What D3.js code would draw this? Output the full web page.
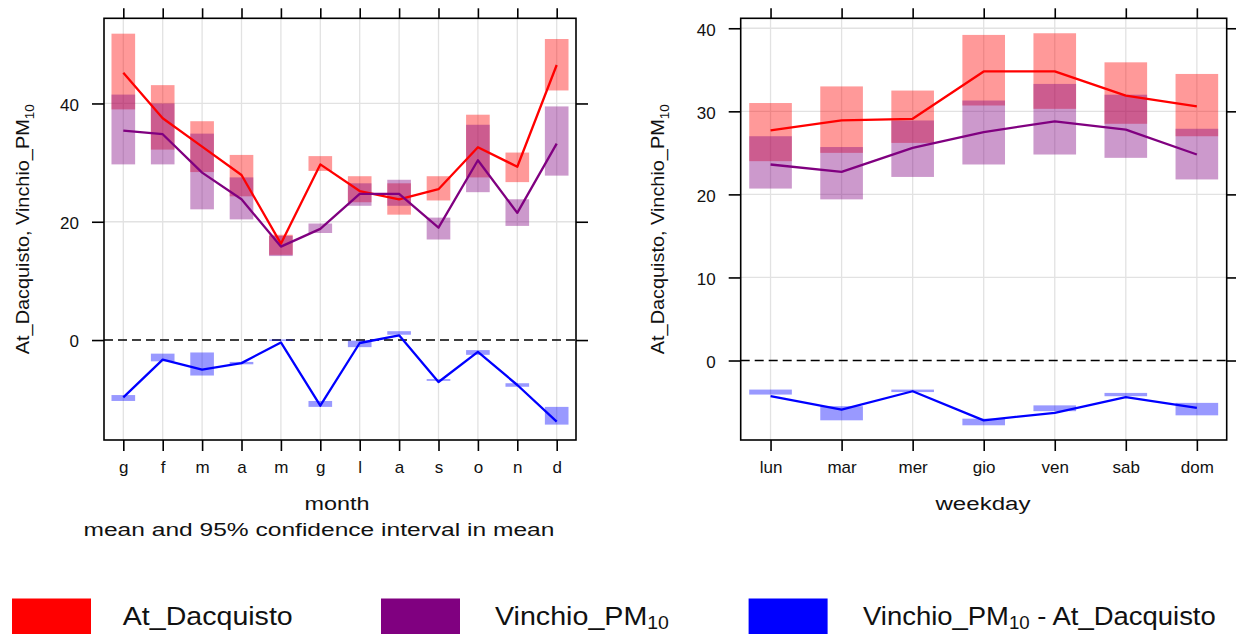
<!DOCTYPE html>
<html lang="en">
<head>
<meta charset="UTF-8">
<title>Time variation</title>
<script src="https://d3js.org/d3.v7.min.js"></script>
<style>
  body { margin: 0; background: #fff; }
  svg { display: block; font-family: "Liberation Sans", Arial, sans-serif; }
  .grid line { stroke: #e2e2e2; stroke-width: 1.3; }
  .frame { fill: none; stroke: #000; stroke-width: 1.6; }
  .axis path { display: none; }
  .axis line { stroke: #000; stroke-width: 1.6; }
  .axis text { font-size: 17px; fill: #111; font-family: "Liberation Sans", Arial, sans-serif; }
</style>
</head>
<body>
<div id="chart"></div>
<script>
// month panel
const months = ["g", "f", "m", "a", "m", "g", "l", "a", "s", "o", "n", "d"];
const atMonthMean  = [45.2, 37.5, 32.7, 27.9, 16.3, 29.7, 25.2, 23.8, 25.5, 32.6, 29.3, 46.5];
const atMonthLow   = [39.0, 32.2, 28.4, 24.3, 14.4, 28.6, 23.3, 21.2, 23.6, 27.5, 26.7, 42.2];
const atMonthHigh  = [51.8, 43.1, 37.0, 31.3, 17.8, 31.1, 27.7, 26.5, 27.7, 38.1, 31.7, 50.9];
const viMonthMean  = [35.4, 34.8, 28.3, 23.8, 15.8, 18.8, 24.7, 24.7, 19.0, 30.4, 21.5, 33.2];
const viMonthLow   = [29.7, 29.7, 22.1, 20.4, 14.2, 18.1, 22.7, 22.7, 17.0, 25.0, 19.3, 27.8];
const viMonthHigh  = [41.5, 40.0, 34.9, 27.5, 17.6, 19.7, 26.5, 27.1, 20.7, 36.4, 23.8, 39.5];
const diffMonthMean = [-9.7, -3.3, -5.0, -3.9, -0.4, -11.1, -0.5, 0.8, -7.1, -2.0, -7.6, -13.8];
const diffMonthLow  = [-10.3, -3.6, -6.0, -4.1, -0.15, -11.3, -1.2, 0.9, -6.9, -2.5, -7.9, -14.3];
const diffMonthHigh = [-9.3, -2.3, -2.1, -3.7, 0.1, -10.3, -0.1, 1.5, -6.6, -1.7, -7.3, -11.3];
const monthTicks = [0, 20, 40];

// weekday panel
const weekdays = ["lun", "mar", "mer", "gio", "ven", "sab", "dom"];
const atWeekMean  = [27.7, 28.9, 29.1, 34.8, 34.8, 31.9, 30.6];
const atWeekLow   = [24.0, 25.0, 26.2, 30.7, 30.3, 28.5, 27.0];
const atWeekHigh  = [31.0, 33.0, 32.5, 39.2, 39.4, 35.9, 34.5];
const viWeekMean  = [23.6, 22.7, 25.6, 27.5, 28.8, 27.8, 24.8];
const viWeekLow   = [20.7, 19.4, 22.1, 23.6, 24.8, 24.4, 21.8];
const viWeekHigh  = [27.0, 25.7, 28.9, 31.3, 33.3, 32.0, 27.9];
const diffWeekMean = [-4.3, -5.9, -3.7, -7.2, -6.3, -4.4, -5.7];
const diffWeekLow  = [-4.1, -7.2, -3.8, -7.8, -6.1, -4.3, -6.6];
const diffWeekHigh = [-3.5, -5.5, -3.5, -7.0, -5.4, -3.9, -5.1];
const weekTicks = [0, 10, 20, 30, 40];

const colors = { at: "#ff0000", vi: "#800080", diff: "#0000ff" };

const svg = d3.select("#chart").append("svg")
    .attr("width", 1236)
    .attr("height", 634);

// text with optional subscript parts, stretched to a given width
function addLabel(parent, parts, size, width, place, subDrop = 0.3) {
    const t = parent.append("text").attr("font-size", size).attr("fill", "#111");
    let down = false;
    parts.forEach(p => {
        const s = t.append("tspan").text(p.t);
        if (p.sub) {
            s.attr("font-size", size * 0.68).attr("dy", size * subDrop);
            down = true;
        } else if (down) {
            s.attr("dy", -size * subDrop);
            down = false;
        }
    });
    const k = width / t.node().getComputedTextLength();
    t.attr("transform", `${place} scale(${k},1)`);
    return t;
}

const ylabParts = [{ t: "At_Dacquisto, Vinchio_PM" }, { t: "10", sub: true }];

function drawPanel(cfg) {
    const n = cfg.labels.length;
    const idx = d3.range(1, n + 1);
    const x = d3.scaleLinear().domain([1 - cfg.pad, n + cfg.pad]).range([cfg.left, cfg.right]);
    const y = d3.scaleLinear().domain(cfg.yDomain).range([cfg.bottom, cfg.top]);
    const bw = (x(2) - x(1)) * 0.6;
    const g = svg.append("g");

    const grid = g.append("g").attr("class", "grid");
    grid.selectAll(".gx").data(idx).join("line")
        .attr("x1", d => x(d)).attr("x2", d => x(d))
        .attr("y1", cfg.top).attr("y2", cfg.bottom);
    grid.selectAll(".gy").data(cfg.yTicks.filter(v => v !== 0)).join("line")
        .attr("x1", cfg.left).attr("x2", cfg.right)
        .attr("y1", d => y(d)).attr("y2", d => y(d));

    g.append("line")
        .attr("x1", cfg.left).attr("x2", cfg.right)
        .attr("y1", y(0)).attr("y2", y(0))
        .attr("stroke", "#000").attr("stroke-width", 1.4)
        .attr("stroke-dasharray", "9,5");

    cfg.series.forEach(s => {
        g.append("g").selectAll("rect")
            .data(idx.map(i => ({ i, lo: s.low[i - 1], hi: s.high[i - 1] })))
            .join("rect")
            .attr("x", d => x(d.i) - bw / 2)
            .attr("width", bw)
            .attr("y", d => y(Math.max(d.lo, d.hi)))
            .attr("height", d => Math.abs(y(d.lo) - y(d.hi)))
            .attr("fill", s.color)
            .attr("fill-opacity", 0.4);
    });

    const line = d3.line().x((d, i) => x(i + 1)).y(d => y(d));
    cfg.series.forEach(s => {
        g.append("path").datum(s.mean)
            .attr("d", line)
            .attr("fill", "none")
            .attr("stroke", s.color)
            .attr("stroke-width", 2.3)
            .attr("stroke-linejoin", "round");
    });

    g.append("rect").attr("class", "frame")
        .attr("x", cfg.left).attr("y", cfg.top)
        .attr("width", cfg.right - cfg.left).attr("height", cfg.bottom - cfg.top);

    g.append("g").attr("class", "axis")
        .attr("transform", `translate(0,${cfg.bottom})`)
        .call(d3.axisBottom(x).tickValues(idx).tickFormat(i => cfg.labels[i - 1])
            .tickSize(11).tickPadding(10));
    g.append("g").attr("class", "axis")
        .attr("transform", `translate(0,${cfg.top})`)
        .call(d3.axisTop(x).tickValues(idx).tickFormat("").tickSize(10));
    g.append("g").attr("class", "axis")
        .attr("transform", `translate(${cfg.left},0)`)
        .call(d3.axisLeft(y).tickValues(cfg.yTicks).tickFormat(d3.format("d"))
            .tickSize(12).tickPadding(13))
        .selectAll("text").attr("dy", "0.4em");
    g.append("g").attr("class", "axis")
        .attr("transform", `translate(${cfg.right},0)`)
        .call(d3.axisRight(y).tickValues(cfg.yTicks).tickFormat("").tickSize(12));

    const cy = (cfg.top + cfg.bottom) / 2;
    addLabel(g, ylabParts, 18, 250, `translate(${cfg.ylabX},${cy + 125}) rotate(-90)`);
    addLabel(g, [{ t: cfg.title }], 19, cfg.titleWidth,
        `translate(${cfg.titleX - cfg.titleWidth / 2},510)`);
}

drawPanel({
    labels: months, left: 104, right: 576, top: 18.3, bottom: 440, pad: 0.49,
    yDomain: [-16.9, 54.4], yTicks: monthTicks, ylabX: 29,
    title: "month", titleX: 337, titleWidth: 65,
    series: [
        { color: colors.at, mean: atMonthMean, low: atMonthLow, high: atMonthHigh },
        { color: colors.vi, mean: viMonthMean, low: viMonthLow, high: viMonthHigh },
        { color: colors.diff, mean: diffMonthMean, low: diffMonthLow, high: diffMonthHigh }
    ]
});

drawPanel({
    labels: weekdays, left: 740.7, right: 1226.7, top: 18.3, bottom: 440, pad: 0.42,
    yDomain: [-9.57, 41.2], yTicks: weekTicks, ylabX: 664,
    title: "weekday", titleX: 983, titleWidth: 95,
    series: [
        { color: colors.at, mean: atWeekMean, low: atWeekLow, high: atWeekHigh },
        { color: colors.vi, mean: viWeekMean, low: viWeekLow, high: viWeekHigh },
        { color: colors.diff, mean: diffWeekMean, low: diffWeekLow, high: diffWeekHigh }
    ]
});

addLabel(svg, [{ t: "mean and 95% confidence interval in mean" }], 18.5, 471,
    "translate(83.5,536)");

// legend
const legendItems = [
    { color: colors.at, parts: [{ t: "At_Dacquisto" }], x: 12, tx: 122.8, tw: 170 },
    { color: colors.vi, parts: [{ t: "Vinchio_PM" }, { t: "10", sub: true }], x: 381, tx: 495, tw: 174 },
    { color: colors.diff, parts: [{ t: "Vinchio_PM" }, { t: "10", sub: true }, { t: " - At_Dacquisto" }],
      x: 748.6, tx: 863, tw: 353 }
];
const legend = svg.append("g");
legendItems.forEach(d => {
    legend.append("rect")
        .attr("x", d.x).attr("y", 598.5)
        .attr("width", 79).attr("height", 40)
        .attr("fill", d.color);
    addLabel(legend, d.parts, 26, d.tw, `translate(${d.tx},624.5)`, 0.16);
});
</script>
</body>
</html>
